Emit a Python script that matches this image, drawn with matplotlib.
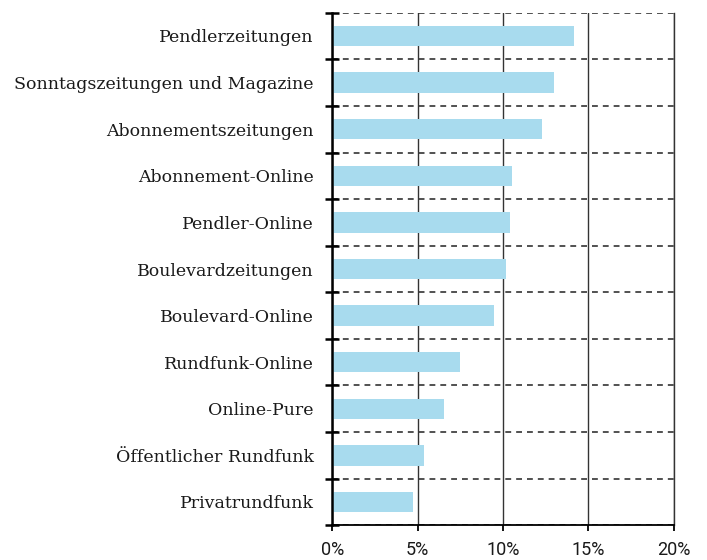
import numpy as np
import matplotlib
matplotlib.use('Agg')
import matplotlib.pyplot as plt
from matplotlib.ticker import FixedLocator, FuncFormatter

categories = [
    'Pendlerzeitungen',
    'Sonntagszeitungen und Magazine',
    'Abonnementszeitungen',
    'Abonnement-Online',
    'Pendler-Online',
    'Boulevardzeitungen',
    'Boulevard-Online',
    'Rundfunk-Online',
    'Online-Pure',
    'Öffentlicher Rundfunk',
    'Privatrundfunk',
]
values = [14.15, 13.0, 12.3, 10.5, 10.4, 10.15, 9.45, 7.5, 6.55, 5.35, 4.7]
x_ticks = [0, 5, 10, 15, 20]

bar_color = '#a8dbee'
grid_color = '#333333'

fig = plt.figure(figsize=(7.07, 5.6), dpi=100)
ax = fig.add_axes([332.3 / 707, 1 - 525.3 / 560, (673.7 - 332.3) / 707, (525.3 - 12.7) / 560])

y = np.arange(len(categories))
ax.barh(y, values, height=0.44, color=bar_color, zorder=3)

ax.set_xlim(0, 20)
ax.set_ylim(len(categories) - 0.5, -0.5)

ax.set_yticks(y)
ax.set_yticklabels(categories, fontfamily='DejaVu Serif', fontsize=12.5, color='#1a1a1a')
ax.tick_params(axis='y', which='major', length=0, pad=13.5)
ax.yaxis.set_minor_locator(FixedLocator(np.arange(-0.5, len(categories), 1.0)))
ax.tick_params(axis='y', which='minor', direction='inout', length=9.5, width=1.8, color='black')
ax.grid(True, axis='y', which='minor', linestyle=(0, (3.5, 3)), color=grid_color, linewidth=1.2, zorder=1)

ax.set_xticks(x_ticks)
ax.xaxis.set_major_formatter(FuncFormatter(lambda v, p: '%d%%' % v))
for lab in ax.get_xticklabels():
    lab.set_fontfamily('Roboto')
    lab.set_fontsize(13)
    lab.set_color('#1a1a1a')
ax.tick_params(axis='x', which='major', direction='out', length=4, width=1.3, pad=7.5, color='black')
ax.grid(True, axis='x', which='major', linestyle='-', color=grid_color, linewidth=1.0, zorder=1)

ax.spines['top'].set_visible(False)
ax.spines['right'].set_color(grid_color)
ax.spines['right'].set_linewidth(1.0)
ax.spines['left'].set_linewidth(1.8)
ax.spines['bottom'].set_linewidth(1.3)
ax.set_axisbelow(False)
for s in ax.spines.values():
    s.set_zorder(4)

fig.savefig('out.png', dpi=100)
